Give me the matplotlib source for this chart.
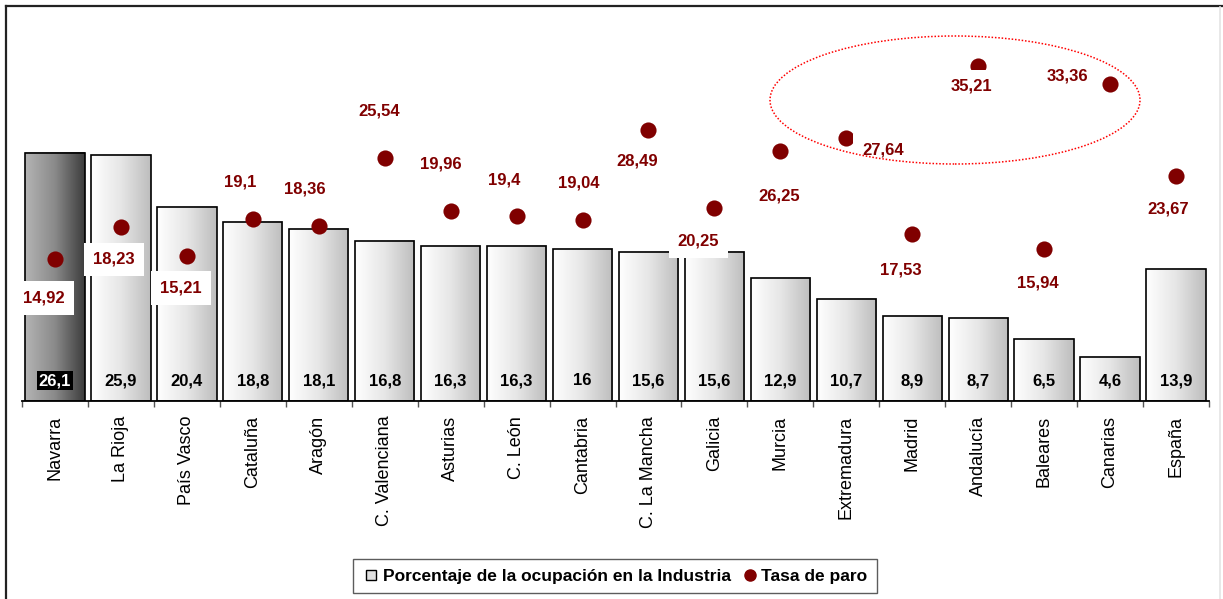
import numpy as np
import matplotlib
matplotlib.use("Agg")
import matplotlib.pyplot as plt
from matplotlib.patches import Ellipse
from matplotlib.lines import Line2D

regions = ["Navarra", "La Rioja", "País Vasco", "Cataluña", "Aragón", "C. Valenciana",
           "Asturias", "C. León", "Cantabria", "C. La Mancha", "Galicia", "Murcia",
           "Extremadura", "Madrid", "Andalucía", "Baleares", "Canarias", "España"]
industria = [26.1, 25.9, 20.4, 18.8, 18.1, 16.8, 16.3, 16.3, 16.0, 15.6, 15.6, 12.9,
             10.7, 8.9, 8.7, 6.5, 4.6, 13.9]
industria_labels = ["26,1", "25,9", "20,4", "18,8", "18,1", "16,8", "16,3", "16,3", "16",
                    "15,6", "15,6", "12,9", "10,7", "8,9", "8,7", "6,5", "4,6", "13,9"]
paro = [14.92, 18.23, 15.21, 19.10, 18.36, 25.54, 19.96, 19.40, 19.04, 28.49, 20.25, 26.25,
        27.64, 17.53, 35.21, 15.94, 33.36, 23.67]
paro_labels = ["14,92", "18,23", "15,21", "19,1", "18,36", "25,54", "19,96", "19,4", "19,04",
               "28,49", "20,25", "26,25", "27,64", "17,53", "35,21", "15,94", "33,36", "23,67"]

# label offsets (pixels) relative to each dot -- styling only
lab_off = [(-11, -39), (-7, -32), (-6, -32), (-13, 37), (-14, 37), (-6, 47),
           (-10, 47), (-12, 36), (-4, 37), (-11, -31), (-16, -33), (-1, -45),
           (37, -12), (-11, -36), (-7, -20), (-6, -34), (-43, 8), (-8, -33)]

plt.rcParams['font.family'] = ['Liberation Sans', 'DejaVu Sans']

W, H = 1223, 599
fig = plt.figure(figsize=(W / 100, H / 100), dpi=100)
base_y = 400.5
ax = fig.add_axes([22 / W, (H - base_y) / H, 1187 / W, (base_y - 6) / H])
scale = 9.49
ax.set_ylim(0, (base_y - 6) / scale)
ax.set_xlim(-0.5, len(regions) - 0.5)

x = np.arange(len(regions))
bars = ax.bar(x, industria, width=0.9, facecolor='none', edgecolor='black',
              linewidth=1.2, zorder=3)

grad = np.linspace(0, 1, 256).reshape(1, -1)
for i, b in enumerate(bars):
    x0, w, h = b.get_x(), b.get_width(), b.get_height()
    if i == 0:
        cmap = matplotlib.colors.LinearSegmentedColormap.from_list(
            'dk', ['#b4b4b4', '#8a8a8a', '#3c3c3c'])
    else:
        cmap = matplotlib.colors.LinearSegmentedColormap.from_list(
            'lt', ['#ffffff', '#e6e6e6', '#bdbdbd'])
    ax.imshow(grad, cmap=cmap, aspect='auto', extent=(x0, x0 + w, 0, h),
              zorder=2, interpolation='bilinear')

for i, b in enumerate(bars):
    cx = b.get_x() + b.get_width() / 2
    if i == 0:
        ax.annotate(industria_labels[i], (cx, 0), xytext=(0, 20), textcoords='offset pixels',
                    ha='center', va='center', fontsize=12, fontweight='bold', color='white',
                    bbox=dict(boxstyle='square,pad=0.1', fc='black', ec='none'), zorder=6)
    else:
        ax.annotate(industria_labels[i], (cx, 0), xytext=(0, 20), textcoords='offset pixels',
                    ha='center', va='center', fontsize=12, fontweight='bold', color='black',
                    zorder=6)

ax.scatter(x, paro, s=135, color='#800000', zorder=7, linewidths=0)
for i in range(len(regions)):
    t = ax.annotate(paro_labels[i], (x[i], paro[i]), xytext=lab_off[i],
                    textcoords='offset pixels',
                    ha='center', va='center', fontsize=12, fontweight='bold', color='#800000',
                    bbox=dict(boxstyle='square,pad=0.55', fc='white', ec='none'),
                    zorder=8, annotation_clip=False)
    bp = t.get_bbox_patch()
    bp.set_clip_on(True)
    bp.set_clip_box(ax.bbox)

for s in ['top', 'right', 'left']:
    ax.spines[s].set_visible(False)
ax.spines['bottom'].set_color('black')
ax.spines['bottom'].set_linewidth(1.3)
ax.spines['bottom'].set_zorder(4)
ax.set_yticks([])
ax.set_xticks(x)
ax.set_xticklabels(regions, rotation=90, fontsize=13, va='top')
ax.tick_params(axis='x', which='major', length=0, pad=11)
ax.set_xticks(np.arange(-0.5, len(regions)), minor=True)
ax.tick_params(axis='x', which='minor', length=4, width=1, color='#555555', direction='out')
ax.patch.set_visible(False)

# dotted ellipse highlighting highest unemployment
ell = Ellipse((955 / W, 1 - 100 / H), 370 / W, 128 / H, transform=fig.transFigure,
              fill=False, edgecolor='#ff0000', linestyle=(0, (1, 1.2)), linewidth=1.1, zorder=10)
fig.add_artist(ell)

# figure frame lines
fig.add_artist(Line2D([6 / W, 6 / W], [0, 1 - 6 / H], transform=fig.transFigure,
                      color='#222222', linewidth=1.6))
fig.add_artist(Line2D([6 / W, 1], [1 - 6 / H, 1 - 6 / H], transform=fig.transFigure,
                      color='#222222', linewidth=1.6))
fig.add_artist(Line2D([1220 / W, 1220 / W], [0, 1 - 7 / H], transform=fig.transFigure,
                      color='#e4e4e4', linewidth=1.2))

handles = [Line2D([], [], marker='s', linestyle='none', markersize=6.5,
                  markerfacecolor='#e0e0e0', markeredgecolor='black', markeredgewidth=1),
           Line2D([], [], marker='o', linestyle='none', markersize=8,
                  markerfacecolor='#800000', markeredgecolor='#800000')]
leg = fig.legend(handles, ["Porcentaje de la ocupación en la Industria", "Tasa de paro"],
                 loc='center', bbox_to_anchor=(615 / W, 1 - 576 / H), ncol=2,
                 prop={'weight': 'bold', 'size': 12.5}, frameon=True, fancybox=False,
                 handletextpad=0.15, columnspacing=0.6, handlelength=1.0,
                 borderpad=0.55, borderaxespad=0)
leg.get_frame().set_edgecolor('#333333')
leg.get_frame().set_linewidth(1.0)

fig.savefig("out.png", dpi=100)
